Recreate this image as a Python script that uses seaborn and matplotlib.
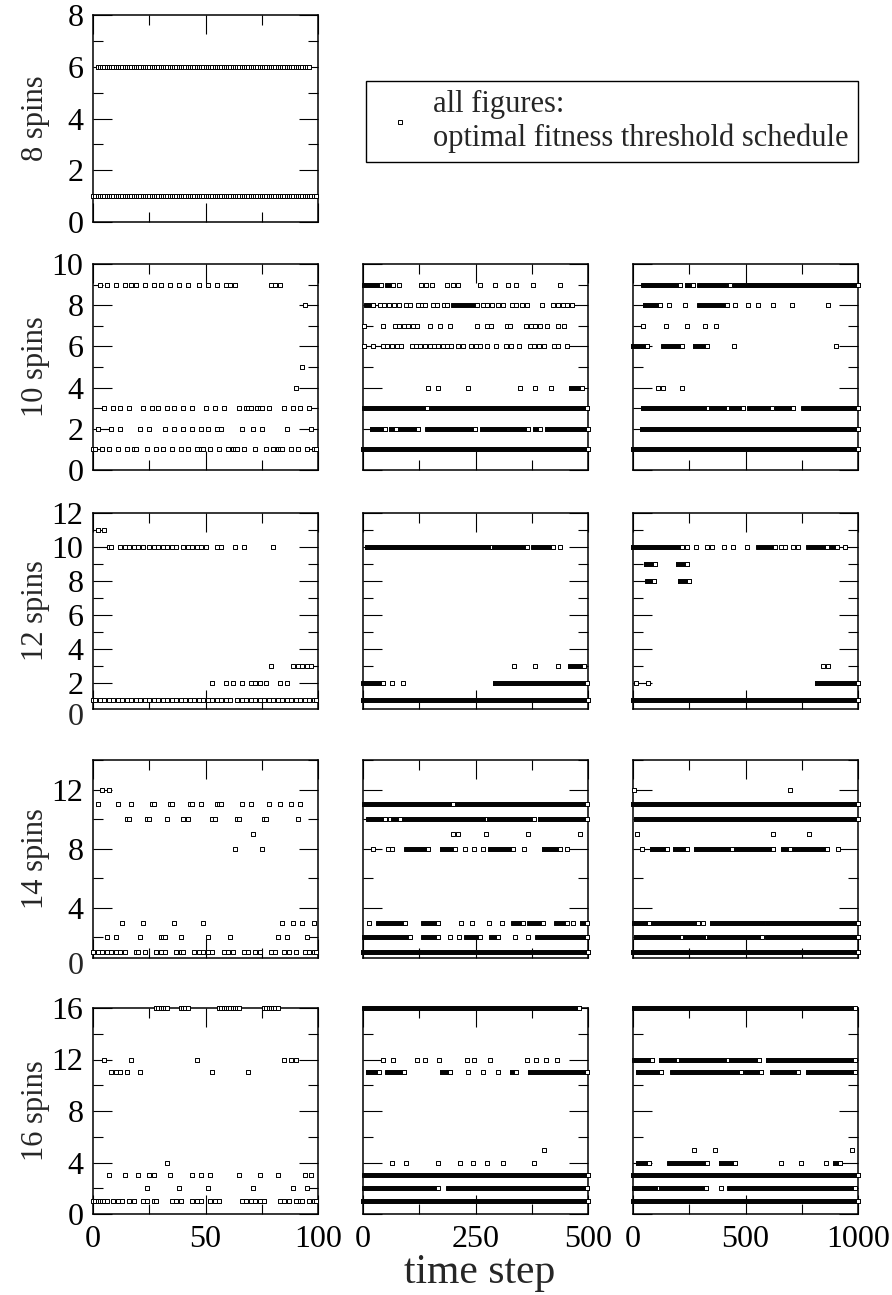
import numpy as np
import pandas as pd
import matplotlib
matplotlib.use("Agg")
import matplotlib.pyplot as plt
import seaborn as sns
from matplotlib.ticker import MultipleLocator
from matplotlib.lines import Line2D
from matplotlib.transforms import blended_transform_factory

sns.set_style("ticks")
plt.rcParams["font.family"] = ["Liberation Serif", "DejaVu Serif"]

# ---------------------------------------------------------------------------
# Optimal fitness threshold schedules.
# For every (spins, horizon) panel: single time steps per threshold level,
# and runs (first, last) of consecutive time steps per threshold level.
# ---------------------------------------------------------------------------
spin_counts = [8, 10, 12, 14, 16]
horizons = [100, 500, 1000]

s8_h100_points = {}
s8_h100_runs = {1: [(0, 99)], 6: [(2, 96)]}

s10_h100_points = {
    9: [3, 6, 10, 14, 17, 19, 23, 27, 30, 34, 38, 42, 47, 51, 55, 59, 61, 63, 79, 81, 83],
    8: [94],
    5: [93],
    4: [90],
    3: [5, 9, 12, 16, 22, 26, 29, 33, 36, 40, 44, 50, 54, 58, 65, 68, 69, 70, 73, 74,
        75, 78, 85, 89, 92, 96],
    2: [2, 8, 12, 21, 25, 32, 36, 40, 44, 48, 51, 55, 57, 66, 71, 75, 86, 97],
    1: [0, 1, 4, 7, 11, 15, 18, 19, 24, 28, 31, 35, 39, 42, 46, 48, 49, 52, 56, 60, 62,
        63, 64, 67, 72, 77, 80, 82, 83, 84, 88, 91, 95, 98, 99],
}
s10_h100_runs = {}

s10_h500_points = {
    9: [81, 129, 140, 153, 186, 199, 212, 260, 293, 323, 341, 377, 438],
    8: [38, 47, 58, 69, 79, 96, 104, 122, 130, 137, 156, 165, 180, 187, 267, 276, 286,
        301, 312, 330, 341, 353, 364, 398, 423, 434, 444, 453, 464],
    7: [2, 45, 71, 81, 91, 101, 112, 121, 149, 170, 193, 253, 275, 284, 319, 327, 362,
        373, 382, 393, 408, 434, 447],
    6: [2, 23, 44, 54, 64, 75, 84, 108, 118, 127, 138, 148, 157, 167, 177, 186, 196, 212,
        223, 240, 251, 260, 276, 296, 318, 328, 347, 370, 380, 392, 402, 424, 434, 453],
    4: [145, 167, 234, 349, 382, 417],
}
s10_h500_runs = {
    9: [(2, 39), (54, 66)],
    8: [(7, 23), (201, 253)],
    4: [(462, 486)],
    3: [(3, 143), (153, 498)],
    2: [(19, 49), (62, 73), (82, 123), (143, 249), (264, 367), (382, 393), (408, 500)],
    1: [(0, 500)],
}

s10_h1000_points = {
    8: [161, 231, 453, 513, 554, 624, 705, 868],
    7: [46, 147, 241, 320, 369],
    6: [450, 902],
    4: [110, 135, 216],
}
s10_h1000_runs = {
    9: [(46, 209), (241, 268), (295, 429), (453, 1000)],
    8: [(53, 120), (295, 416)],
    6: [(0, 61), (135, 216), (276, 327)],
    3: [(43, 335), (345, 424), (434, 490), (517, 616), (638, 713), (757, 1000)],
    2: [(39, 1000)],
    1: [(0, 1000)],
}

s12_h100_points = {
    11: [2, 5],
    10: [7, 8, 12, 14, 16, 18, 20, 22, 25, 27, 29, 31, 33, 35, 37, 40, 42, 44, 46, 48,
         50, 55, 57, 63, 67, 80],
    3: [79, 89, 91, 93, 95, 97],
    2: [53, 59, 62, 66, 70, 72, 74, 77, 83, 86],
    1: [0, 1, 3, 5, 7, 9, 11, 13, 15, 17, 19, 21, 23, 25, 27, 29, 31, 33, 35, 37, 39, 41,
        43, 45, 47, 49, 51, 53, 55, 57, 59, 61, 64, 66, 68, 70, 72, 74, 76, 78, 80, 82,
        84, 86, 88, 90, 92, 94, 96, 98, 99],
}
s12_h100_runs = {}

s12_h500_points = {
    10: [438],
    3: [336, 382, 434],
    2: [65, 88],
}
s12_h500_runs = {
    10: [(8, 286), (290, 364), (378, 423)],
    3: [(460, 490)],
    2: [(1, 45), (293, 497)],
    1: [(0, 500)],
}

s12_h1000_points = {
    10: [239, 280, 327, 350, 406, 446, 508, 656, 676, 710, 735, 942],
    3: [843, 868],
    2: [13, 65],
}
s12_h1000_runs = {
    10: [(1, 216), (557, 631), (779, 861), (883, 905)],
    9: [(58, 98), (201, 239)],
    8: [(64, 95), (209, 250)],
    2: [(816, 1000)],
    1: [(0, 1000)],
}

s14_h100_points = {
    12: [4, 7],
    11: [2, 11, 17, 26, 27, 34, 35, 43, 44, 48, 55, 56, 57, 66, 70, 78, 83, 88, 92],
    10: [15, 16, 24, 25, 33, 40, 42, 53, 54, 64, 65, 76, 77, 91],
    9: [71],
    8: [63, 75],
    3: [13, 22, 36, 49, 84, 89, 93, 98],
    2: [6, 10, 21, 30, 31, 32, 39, 51, 61, 82, 86, 95],
    1: [0, 2, 4, 6, 8, 10, 12, 14, 19, 20, 23, 28, 30, 32, 37, 39, 40, 45, 47, 49, 51,
        53, 58, 60, 62, 67, 69, 72, 74, 79, 81, 85, 87, 90, 94, 96, 98, 99],
}
s14_h100_runs = {}

s14_h500_points = {
    10: [59],
    9: [199, 210, 273, 367, 482],
    8: [23, 55, 65, 227, 247, 266, 358, 454],
    3: [14, 217, 243, 279, 308, 467],
    2: [193, 214, 338, 367],
}
s14_h500_runs = {
    11: [(2, 200), (209, 497)],
    10: [(12, 49), (67, 82), (91, 275), (281, 379), (393, 497)],
    8: [(96, 145), (175, 204), (282, 333), (402, 438)],
    3: [(34, 93), (134, 167), (334, 355), (369, 399), (429, 453), (486, 497)],
    2: [(2, 104), (134, 167), (229, 259), (284, 301), (387, 497)],
    1: [(0, 500)],
}

s14_h1000_points = {
    12: [4, 698],
    9: [19, 624, 782],
    8: [41, 910],
    3: [313],
}
s14_h1000_runs = {
    11: [(0, 1000)],
    10: [(13, 1000)],
    8: [(83, 150), (187, 239), (280, 439), (458, 624), (665, 698), (720, 861)],
    3: [(4, 73), (90, 290), (350, 594), (601, 1000)],
    2: [(13, 216), (231, 327), (339, 572), (597, 1000)],
    1: [(0, 1000)],
}

s16_h100_points = {
    12: [5, 17, 46, 85, 88, 90],
    11: [8, 10, 12, 15, 21, 53, 69],
    4: [33],
    3: [7, 14, 20, 25, 27, 34, 44, 48, 52, 65, 74, 82, 94, 97],
    2: [24, 38, 51, 71, 89, 95],
    1: [0, 1, 2, 3, 4, 5, 6, 9, 11, 13, 16, 18, 22, 24, 27, 28, 35, 37, 39, 44, 46, 48,
        52, 54, 56, 66, 68, 70, 72, 74, 76, 83, 85, 87, 90, 92, 93, 96, 98, 99],
}
s16_h100_runs = {16: [(28, 33), (39, 42), (56, 65), (76, 82)]}

s16_h500_points = {
    12: [44, 67, 120, 137, 168, 232, 247, 282, 365, 384, 406, 432],
    11: [234, 267, 301],
    5: [403],
    4: [64, 95, 166, 216, 244, 276, 310, 380],
}
s16_h500_runs = {
    16: [(3, 480)],
    11: [(10, 35), (54, 92), (175, 194), (330, 339), (371, 498)],
    3: [(3, 500)],
    2: [(3, 166), (189, 498)],
    1: [(0, 500)],
}

s16_h1000_points = {
    5: [271, 365, 972],
    4: [656, 745, 859],
    2: [390],
}
s16_h1000_runs = {
    16: [(3, 985)],
    12: [(3, 86), (124, 200), (215, 420), (435, 560), (600, 985)],
    11: [(23, 124), (175, 479), (504, 568), (618, 732), (778, 985)],
    4: [(23, 72), (162, 327), (390, 453), (897, 922)],
    3: [(0, 1000)],
    2: [(3, 114), (124, 325), (428, 985)],
    1: [(0, 1000)],
}

schedules = {
    (8, 100): (s8_h100_points, s8_h100_runs),
    (10, 100): (s10_h100_points, s10_h100_runs),
    (10, 500): (s10_h500_points, s10_h500_runs),
    (10, 1000): (s10_h1000_points, s10_h1000_runs),
    (12, 100): (s12_h100_points, s12_h100_runs),
    (12, 500): (s12_h500_points, s12_h500_runs),
    (12, 1000): (s12_h1000_points, s12_h1000_runs),
    (14, 100): (s14_h100_points, s14_h100_runs),
    (14, 500): (s14_h500_points, s14_h500_runs),
    (14, 1000): (s14_h1000_points, s14_h1000_runs),
    (16, 100): (s16_h100_points, s16_h100_runs),
    (16, 500): (s16_h500_points, s16_h500_runs),
    (16, 1000): (s16_h1000_points, s16_h1000_runs),
}


def schedule_frame(points, runs):
    rows = []
    for level, steps in points.items():
        rows += [(s, level) for s in steps]
    for level, spans in runs.items():
        for a, b in spans:
            rows += [(s, level) for s in range(a, b + 1)]
    return pd.DataFrame(rows, columns=["time step", "threshold"])


# ---------------------------------------------------------------------------
# Layout (pixel boxes on an 892 x 1295 canvas)
# ---------------------------------------------------------------------------
W, H = 892, 1295
row_px = [(15, 222), (264, 470), (513, 709), (760, 958), (1008, 1214)]
col_px = [(93, 318), (363, 588), (633, 858)]
row_ylim = [(0, 8), (0, 10), (0.5, 12), (0.6, 14), (0, 16)]
row_ystep = [(2, 1), (2, 1), (2, 1), (4, 2), (4, 2)]
col_xstep = [(50, 25), (250, 125), (500, 250)]

TICK_FS = 23
TEXT_FS = 22
fig = plt.figure(figsize=(W / 100, H / 100), dpi=100)

for r, n in enumerate(spin_counts):
    top, bot = row_px[r]
    for c, T in enumerate(horizons):
        if (n, T) not in schedules:
            continue
        left, right = col_px[c]
        ax = fig.add_axes([left / W, 1 - bot / H, (right - left) / W, (bot - top) / H])
        df = schedule_frame(*schedules[(n, T)])
        sns.scatterplot(data=df, x="time step", y="threshold", ax=ax, marker="s", s=6,
                        color="white", edgecolor="black", linewidth=0.7,
                        clip_on=False, zorder=3, legend=False)
        ax.set_xlim(0, T)
        ax.set_ylim(*row_ylim[r])
        ax.xaxis.set_major_locator(MultipleLocator(col_xstep[c][0]))
        ax.xaxis.set_minor_locator(MultipleLocator(col_xstep[c][1]))
        ax.yaxis.set_major_locator(MultipleLocator(row_ystep[r][0]))
        ax.yaxis.set_minor_locator(MultipleLocator(row_ystep[r][1]))
        ax.tick_params(which="both", direction="in", top=True, right=True,
                       width=0.8, colors="black", labelsize=TICK_FS)
        ax.tick_params(which="major", length=14)
        ax.tick_params(which="minor", length=7)
        ax.tick_params(axis="y", pad=7)
        ax.tick_params(axis="x", pad=8)
        ax.set_xlabel("")
        ax.set_ylabel("")
        for sp in ax.spines.values():
            sp.set_linewidth(1.1)
            sp.set_color("black")
        if c != 0:
            ax.tick_params(axis="y", labelleft=False)
        if r != len(spin_counts) - 1:
            ax.tick_params(axis="x", labelbottom=False)
        if c == 0:
            lo = row_ylim[r][0]
            if lo > 0:
                ax.annotate("0", xy=(0, 0),
                            xycoords=blended_transform_factory(ax.transAxes, ax.transData),
                            xytext=(-7, 0), textcoords="offset points",
                            ha="right", va="center", fontsize=TICK_FS,
                            annotation_clip=False)
    fig.text(36 / W, 1 - (top + bot) / 2 / H, f"{n} spins", rotation=90,
             ha="center", va="center", fontsize=TEXT_FS)

fig.text(480 / W, 1 - 1273 / H, "time step", ha="center", va="center", fontsize=30)

handle = Line2D([], [], marker="s", ls="none", mfc="white", mec="black", ms=2.6, mew=0.7)
leg = fig.legend(handles=[handle], labels=["all figures:\noptimal fitness threshold schedule"],
                 loc="upper left", bbox_to_anchor=(366 / W, 1 - 81 / H),
                 bbox_transform=fig.transFigure, frameon=True, fancybox=False,
                 edgecolor="black", framealpha=1, fontsize=TEXT_FS, borderpad=0.3,
                 handlelength=1.6, handletextpad=0.3, borderaxespad=0)
leg.get_frame().set_linewidth(1.0)

fig.savefig("out.png", dpi=100)
